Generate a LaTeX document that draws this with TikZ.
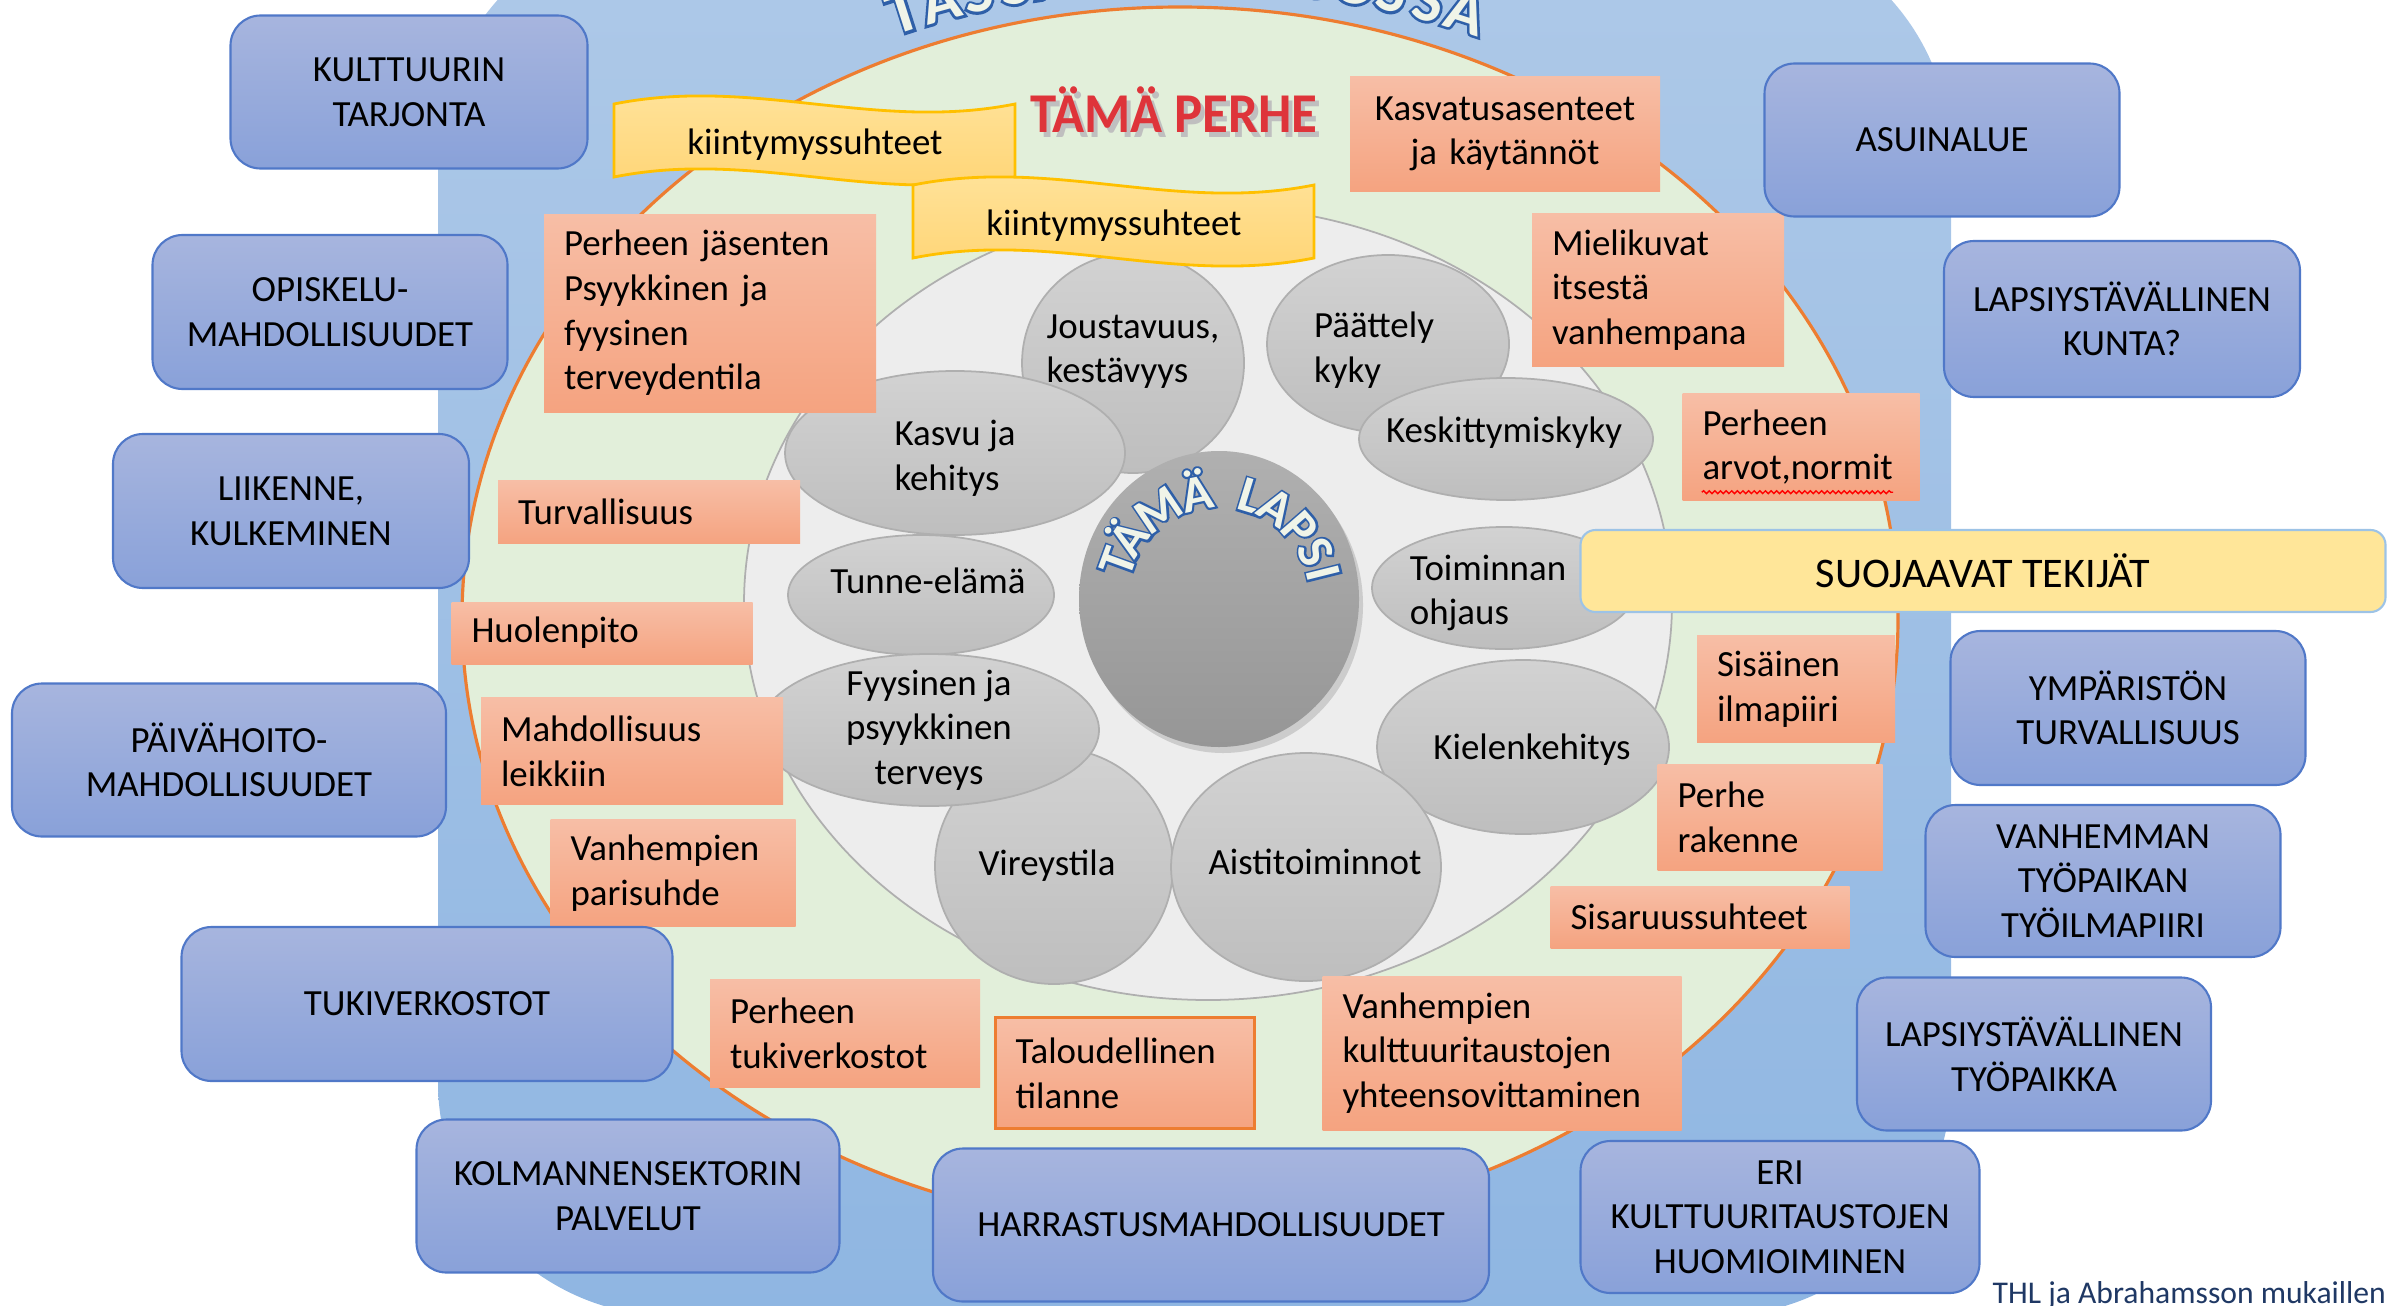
\documentclass[tikz,border=0pt]{standalone}
\usepackage{fontspec}
\setmainfont{Carlito}
\newfontfamily\artoutline{Carlito Bold}[FakeBold=8]
\usetikzlibrary{shapes.geometric,shadows,decorations.pathmorphing}

\definecolor{Bgtop}{RGB}{174,201,232}
\definecolor{Bgbot}{RGB}{143,182,226}
\definecolor{Famfill}{RGB}{226,239,218}
\definecolor{Famline}{RGB}{237,125,49}
\definecolor{Childarea}{RGB}{237,237,237}
\definecolor{Childline}{RGB}{175,175,175}
\definecolor{Childtop}{RGB}{210,210,210}
\definecolor{Childbot}{RGB}{190,190,190}
\definecolor{Lapsitop}{RGB}{176,176,176}
\definecolor{Lapsibot}{RGB}{150,150,150}
\definecolor{Envtop}{RGB}{167,181,222}
\definecolor{Envbot}{RGB}{137,161,217}
\definecolor{Envline}{RGB}{80,120,200}
\definecolor{Famtop}{RGB}{247,190,166}
\definecolor{Fambot}{RGB}{245,163,128}
\definecolor{Bannertop}{RGB}{255,228,158}
\definecolor{Bannerbot}{RGB}{255,211,112}
\definecolor{Bannerline}{RGB}{255,192,0}
\definecolor{Suojafill}{RGB}{255,230,153}
\definecolor{Suojaline}{RGB}{157,195,230}
\definecolor{Letterfill}{RGB}{240,244,232}
\definecolor{Letterline}{RGB}{46,95,168}
\definecolor{Perhered}{RGB}{222,52,58}
\definecolor{Thlnavy}{RGB}{31,56,100}

\newcommand{\diagfont}{\fontsize{10.5}{12.7}\selectfont}
\newcommand{\lapsifont}{\fontsize{14.5}{14.5}\selectfont\bfseries}
\newcommand{\yhteisofont}{\fontsize{18}{18}\selectfont\bfseries}
\newcommand{\wordart}[1]{\makebox[0pt][l]{\textcolor{Letterline}{\artoutline #1}}\textcolor{Letterfill}{#1}}

\begin{document}
\begin{tikzpicture}[
    boxsize/.style 2 args={minimum width=#1cm, minimum height=#2cm},
    envbox/.style={draw=Envline, line width=0.6pt, rounded corners=0.3cm, top color=Envtop, bottom color=Envbot, align=center, font=\diagfont, inner sep=0pt},
    famfactor/.style={top color=Famtop, bottom color=Fambot, align=left, font=\diagfont, inner xsep=0.2cm, inner ysep=0pt},
    childfactor/.style={ellipse, draw=Childline, line width=0.5pt, top color=Childtop, bottom color=Childbot, inner sep=0pt},
    childtext/.style={align=left, font=\diagfont, inner sep=0pt},
    wavebanner/.style={draw=Bannerline, line width=0.8pt, top color=Bannertop, bottom color=Bannerbot},
    arcletter/.style={anchor=base, inner sep=0pt}
]
\useasboundingbox (0,0) rectangle (23.94,-13.05);
\clip (0,0) rectangle (23.94,-13.05);

% yhteiso
\shade[top color=Bgtop, bottom color=Bgbot, rounded corners=2.34cm] (4.38,0.78) rectangle (19.51,-13.16);
\coordinate (yhteiso) at (11.85,-8.88);
\foreach \ch [count=\i] in {T,Ä,S,S,Ä,{},Y,H,T,E,I,S,Ö,S,S,Ä}{
    \pgfmathsetmacro\a{107.8-(\i-1)*2.37}
    \node[arcletter, font=\yhteisofont, rotate=\a-90] (yhteiso-\i) at ([shift={(\a:9.0)}]yhteiso) {\wordart{\ch}};
}

% perhe ja lapsi
\node[ellipse, draw=Famline, line width=0.9pt, fill=Famfill, boxsize={14.36}{12.22}, inner sep=0pt] (perhe) at (11.80,-6.18) {};
\node[ellipse, draw=Childline, line width=0.5pt, fill=Childarea, boxsize={9.28}{7.94}, inner sep=0pt] (lapsialue) at (12.08,-6.03) {};

\node[childfactor, boxsize={2.22}{2.20}] (joustavuus) at (11.33,-3.63) {};
\node[childfactor, boxsize={3.40}{1.64}] (kasvu) at (9.55,-4.53) {};
\node[childfactor, boxsize={2.42}{1.78}] (paattely) at (13.88,-3.44) {};
\node[childfactor, boxsize={2.94}{1.22}] (keskittyminen) at (15.06,-4.39) {};
\node[childfactor, boxsize={2.66}{1.20}] (tunne) at (9.21,-5.95) {};
\node[childfactor, boxsize={2.38}{2.36}] (vireys) at (10.54,-8.66) {};
\node[childfactor, boxsize={3.40}{1.52}] (fyysinen) at (9.29,-7.30) {};
\node[childfactor, boxsize={2.92}{1.74}] (kieli) at (15.23,-7.47) {};
\node[childfactor, boxsize={2.70}{2.28}] (aisti) at (13.06,-8.67) {};
\node[childfactor, boxsize={2.64}{1.22}] (toiminta) at (15.04,-5.88) {};

\node[childtext] (joustavuus-teksti) at (11.33,-3.515) {Joustavuus,\\kestävyys};
\node[childtext] (kasvu-teksti) at (9.55,-4.58) {Kasvu ja\\kehitys};
\node[childtext] (paattely-teksti) at (13.74,-3.50) {Päättely\\kyky};
\node[childtext] (keskittyminen-teksti) at (15.04,-4.33) {Keskittymiskyky};
\node[childtext] (tunne-teksti) at (9.28,-5.81) {Tunne-elämä};
\node[childtext] (vireys-teksti) at (10.47,-8.66) {Vireystila};
\node[childtext, align=center] (fyysinen-teksti) at (9.29,-7.30) {Fyysinen ja\\psyykkinen\\terveys};
\node[childtext] (kieli-teksti) at (15.32,-7.50) {Kielenkehitys};
\node[childtext] (aisti-teksti) at (13.15,-8.62) {Aistitoiminnot};
\node[childtext] (toiminta-teksti) at (14.88,-5.93) {Toiminnan\\ohjaus};

\node[ellipse, top color=Lapsitop, bottom color=Lapsibot, boxsize={2.80}{2.96}, drop shadow={opacity=0.3, shadow xshift=0.04cm, shadow yshift=-0.06cm}] (lapsi) at (12.19,-5.99) {};
\foreach \ch/\a in {T/160, Ä/146, M/124, Ä/102, L/73, A/58, P/41, S/26, I/14}
    \node[arcletter, font=\lapsifont, rotate=\a-90] (lapsi-\a) at ([shift={(\a:0.91)}]lapsi.center) {\wordart{\ch}};

\foreach \bx/\by in {6.14/-1.04, 9.13/-1.85}
    \draw[wavebanner, shift={(\bx,\by)}] (0,0) .. controls (1.4,0.28) and (2.61,-0.28) .. (4.01,0) -- (4.01,-0.73) .. controls (2.61,-1.01) and (1.4,-0.45) .. (0,-0.73) -- cycle;
\node[font=\diagfont] (kiinty1) at (8.15,-1.445) {kiintymyssuhteet};
\node[font=\diagfont] (kiinty2) at (11.14,-2.255) {kiintymyssuhteet};

\node[famfactor, align=center, text width=2.70cm, minimum height=1.15cm] (kasvatus) at (15.05,-1.34) {Kasvatusasenteet\\ja käytännöt};
\node[famfactor, text width=2.92cm, minimum height=1.98cm] (terveys) at (7.10,-3.13) {Perheen jäsenten\\Psyykkinen ja\\fyysinen\\terveydentila};
\node[famfactor, text width=2.12cm, minimum height=1.52cm] (mielikuvat) at (16.58,-2.90) {Mielikuvat\\itsestä\\vanhempana};
\node[famfactor, text width=1.97cm, minimum height=1.07cm] (arvot) at (18.01,-4.47) {Perheen\\arvot,normit};
\node[famfactor, text width=2.62cm, minimum height=0.63cm] (turva) at (6.49,-5.12) {Turvallisuus};
\node[famfactor, text width=2.61cm, minimum height=0.62cm] (huolenpito) at (6.02,-6.33) {Huolenpito};
\node[famfactor, text width=2.62cm, minimum height=1.07cm] (leikki) at (6.32,-7.51) {Mahdollisuus\\leikkiin};
\node[famfactor, text width=2.05cm, minimum height=1.07cm] (parisuhde) at (6.73,-8.73) {Vanhempien\\parisuhde};
\node[famfactor, text width=2.30cm, minimum height=1.08cm] (tukiverkot) at (8.45,-10.33) {Perheen\\tukiverkostot};
\node[famfactor, draw=Famline, line width=0.8pt, text width=2.19cm, minimum height=1.11cm] (talous) at (11.25,-10.73) {Taloudellinen\\tilanne};
\node[famfactor, text width=3.19cm, minimum height=1.54cm] (kulttuuri) at (15.02,-10.53) {Vanhempien\\kulttuuritaustojen\\yhteensovittaminen};
\node[famfactor, text width=1.58cm, minimum height=1.07cm] (ilmapiiri) at (17.96,-6.89) {Sisäinen\\ilmapiiri};
\node[famfactor, text width=1.85cm, minimum height=1.06cm] (rakenne) at (17.70,-8.17) {Perhe\\rakenne};
\node[famfactor, text width=2.59cm, minimum height=0.62cm] (sisarukset) at (17.00,-9.17) {Sisaruussuhteet};
\draw[red, line width=0.4pt, decorate, decoration={snake, amplitude=0.4pt, segment length=1.6pt}] ([xshift=0.2cm, yshift=0.09cm]arvot.south west) -- ([xshift=-0.27cm, yshift=0.09cm]arvot.south east);

\node[font=\fontsize{16}{16}\selectfont\bfseries, text=black!25, inner sep=0pt] (perhe-varjo) at (11.78,-1.15) {\scalebox{0.94}[1]{TÄMÄ PERHE}};
\node[font=\fontsize{16}{16}\selectfont\bfseries, text=Perhered, inner sep=0pt] (perhe-otsikko) at (11.74,-1.10) {\scalebox{0.94}[1]{TÄMÄ PERHE}};

% ymparisto
\node[envbox, boxsize={3.57}{1.53}] (kulttuuritarjonta) at (4.09,-0.92) {KULTTUURIN\\TARJONTA};
\node[envbox, boxsize={3.55}{1.54}] (opiskelu) at (3.30,-3.12) {OPISKELU-\\MAHDOLLISUUDET};
\node[envbox, boxsize={3.56}{1.54}] (liikenne) at (2.91,-5.11) {LIIKENNE,\\KULKEMINEN};
\node[envbox, boxsize={4.34}{1.53}] (paivahoito) at (2.29,-7.60) {PÄIVÄHOITO-\\MAHDOLLISUUDET};
\node[envbox, boxsize={4.91}{1.54}] (tukiverkostot) at (4.27,-10.04) {TUKIVERKOSTOT};
\node[envbox, boxsize={4.23}{1.53}] (kolmassektori) at (6.28,-11.96) {KOLMANNENSEKTORIN\\PALVELUT};
\node[envbox, boxsize={5.56}{1.53}] (harrastus) at (12.11,-12.25) {HARRASTUSMAHDOLLISUUDET};
\node[envbox, boxsize={3.99}{1.52}] (kulttuuritaustat) at (17.80,-12.17) {ERI\\KULTTUURITAUSTOJEN\\HUOMIOIMINEN};
\node[envbox, boxsize={3.55}{1.53}] (asuinalue) at (19.42,-1.40) {ASUINALUE};
\node[envbox, boxsize={3.56}{1.56}] (kunta) at (21.22,-3.19) {LAPSIYSTÄVÄLLINEN\\KUNTA?};
\node[envbox, boxsize={3.55}{1.54}] (ymparisto) at (21.28,-7.08) {YMPÄRISTÖN\\TURVALLISUUS};
\node[envbox, boxsize={3.55}{1.52}] (tyoilmapiiri) at (21.03,-8.81) {VANHEMMAN\\TYÖPAIKAN\\TYÖILMAPIIRI};
\node[envbox, boxsize={3.54}{1.53}] (tyopaikka) at (20.34,-10.54) {LAPSIYSTÄVÄLLINEN\\TYÖPAIKKA};

\node[draw=Suojaline, line width=0.6pt, fill=Suojafill, rounded corners=0.15cm, boxsize={8.05}{0.82}, font=\fontsize{12}{14}\selectfont] (suojaavat) at (19.83,-5.71) {SUOJAAVAT TEKIJÄT};

\node[anchor=base west, inner sep=0pt, text=Thlnavy, font=\fontsize{9}{11}\selectfont] (lahde) at (19.92,-13.03) {THL ja Abrahamsson mukaillen};
\end{tikzpicture}
\end{document}
